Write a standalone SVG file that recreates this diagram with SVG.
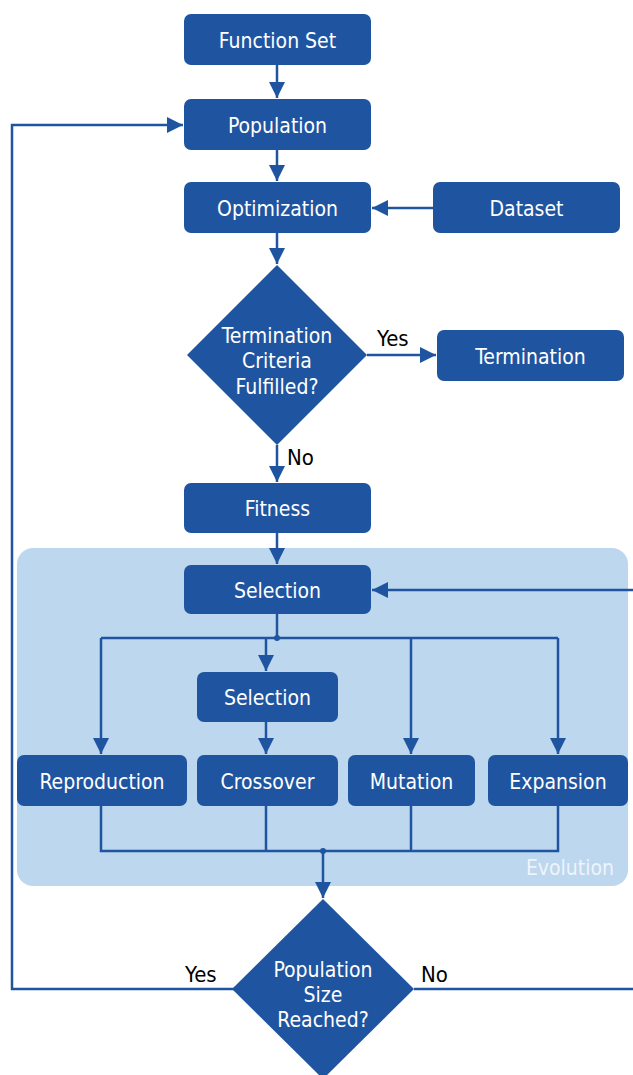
<svg xmlns="http://www.w3.org/2000/svg" width="633" height="1075" viewBox="0 0 633 1075">
<style>
.box{fill:#1F55A0;}
.t{font-family:"DejaVu Sans Condensed","DejaVu Sans",sans-serif;font-size:21px;fill:#FFFFFF;text-anchor:middle;}
.lbl{font-family:"DejaVu Sans Condensed","DejaVu Sans",sans-serif;font-size:22px;fill:#000000;}
.c{fill:none;stroke:#1F55A0;stroke-width:2.5;}
</style>
<defs>
<marker id="ah" markerUnits="userSpaceOnUse" markerWidth="16" markerHeight="16" viewBox="0 0 16 16" refX="16" refY="8" orient="auto">
<path d="M0,0 L16,8 L0,16 Z" fill="#1F55A0"/>
</marker>
</defs>
<rect id="evolution-bg" x="17" y="548" width="611" height="338" rx="16" fill="#BDD7EE"/>
<text x="614" y="875" font-family="DejaVu Sans Condensed, DejaVu Sans, sans-serif" font-size="21" fill="#EEF4FB" text-anchor="end">Evolution</text>
<g id="connectors">
<path class="c" d="M277,65 V98" marker-end="url(#ah)"/>
<path class="c" d="M277,150 V181" marker-end="url(#ah)"/>
<path class="c" d="M433,208 H372" marker-end="url(#ah)"/>
<path class="c" d="M277,233 V264" marker-end="url(#ah)"/>
<path class="c" d="M367,355 H436" marker-end="url(#ah)"/>
<path class="c" d="M277,445 V482" marker-end="url(#ah)"/>
<path class="c" d="M277,533 V564" marker-end="url(#ah)"/>
<path class="c" d="M640,590 H372" marker-end="url(#ah)"/>
<path class="c" d="M277,614 V638"/>
<path class="c" d="M101,638 H558"/>
<path class="c" d="M101,638 V754" marker-end="url(#ah)"/>
<path class="c" d="M266,638 V671" marker-end="url(#ah)"/>
<path class="c" d="M266,722 V754" marker-end="url(#ah)"/>
<path class="c" d="M411,638 V754" marker-end="url(#ah)"/>
<path class="c" d="M558,638 V754" marker-end="url(#ah)"/>
<circle cx="277" cy="638" r="3" fill="#1F55A0"/>
<path class="c" d="M101,806 V851 H558 V806"/>
<path class="c" d="M266,806 V851"/>
<path class="c" d="M411,806 V851"/>
<circle cx="323" cy="851" r="3" fill="#1F55A0"/>
<path class="c" d="M323,851 V898" marker-end="url(#ah)"/>
<path class="c" d="M234,989 H12 V125 H183" marker-end="url(#ah)"/>
<path class="c" d="M414,989 H640"/>
</g>
<g id="function-set"><rect class="box" x="184" y="14" width="187" height="51" rx="7"/><text class="t" x="277.5" y="48">Function Set</text></g>
<g id="population"><rect class="box" x="184" y="99" width="187" height="51" rx="7"/><text class="t" x="277.5" y="133">Population</text></g>
<g id="optimization"><rect class="box" x="184" y="182" width="187" height="51" rx="7"/><text class="t" x="277.5" y="216">Optimization</text></g>
<g id="dataset"><rect class="box" x="433" y="182" width="187" height="51" rx="7"/><text class="t" x="526.5" y="216">Dataset</text></g>
<g id="termination-criteria"><path class="box" d="M277,265 L367,355 L277,445 L187,355 Z"/>
<text class="t" x="277" y="343">Termination</text><text class="t" x="277" y="368">Criteria</text><text class="t" x="277" y="394">Fulfilled?</text></g>
<text class="lbl" x="377" y="346">Yes</text>
<text class="lbl" x="287" y="465">No</text>
<g id="termination"><rect class="box" x="437" y="330" width="187" height="51" rx="7"/><text class="t" x="530.5" y="364">Termination</text></g>
<g id="fitness"><rect class="box" x="184" y="483" width="187" height="50" rx="7"/><text class="t" x="277.5" y="516">Fitness</text></g>
<g id="selection"><rect class="box" x="184" y="565" width="187" height="49" rx="7"/><text class="t" x="277.5" y="598">Selection</text></g>
<g id="selection-2"><rect class="box" x="197" y="672" width="141" height="50" rx="7"/><text class="t" x="267.5" y="705">Selection</text></g>
<g id="reproduction"><rect class="box" x="17" y="755" width="170" height="51" rx="7"/><text class="t" x="102" y="789">Reproduction</text></g>
<g id="crossover"><rect class="box" x="197" y="755" width="141" height="51" rx="7"/><text class="t" x="267.5" y="789">Crossover</text></g>
<g id="mutation"><rect class="box" x="348" y="755" width="127" height="51" rx="7"/><text class="t" x="411.5" y="789">Mutation</text></g>
<g id="expansion"><rect class="box" x="488" y="755" width="140" height="51" rx="7"/><text class="t" x="558" y="789">Expansion</text></g>
<g id="population-size"><path class="box" d="M323,899 L414,989 L323,1079 L232,989 Z"/>
<text class="t" x="323" y="977">Population</text><text class="t" x="323" y="1002">Size</text><text class="t" x="323" y="1027">Reached?</text></g>
<text class="lbl" x="185" y="982">Yes</text>
<text class="lbl" x="421" y="982">No</text>
</svg>
